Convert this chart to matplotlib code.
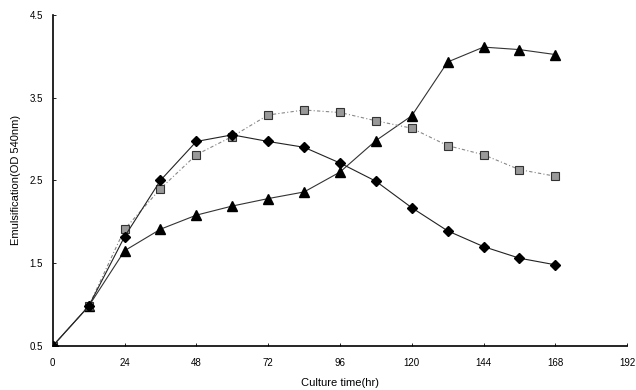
import matplotlib
matplotlib.use("Agg")
import matplotlib.pyplot as plt

plt.rcParams['font.family'] = ['Liberation Sans', 'DejaVu Sans']

# culture time (hr)
hours = [0, 12, 24, 36, 48, 60, 72, 84, 96, 108, 120, 132, 144, 156, 168]

# emulsification (OD 540nm)
diamond = [0.5, 0.98, 1.82, 2.50, 2.97, 3.05, 2.97, 2.90, 2.71, 2.49, 2.17, 1.89, 1.70, 1.56, 1.48]
square = [0.5, 0.98, 1.91, 2.40, 2.81, 3.03, 3.29, 3.35, 3.32, 3.22, 3.13, 2.92, 2.81, 2.63, 2.55]
triangle = [0.5, 0.98, 1.65, 1.91, 2.08, 2.19, 2.28, 2.36, 2.60, 2.98, 3.28, 3.93, 4.11, 4.08, 4.02]

x_ticks = [0, 24, 48, 72, 96, 120, 144, 168, 192]
y_ticks = [0.5, 1.5, 2.5, 3.5, 4.5]

fig = plt.figure(figsize=(6.36, 3.9), dpi=100)
ax = fig.add_axes([0.083, 0.113, 0.903, 0.849])

ax.plot(hours, triangle, color='#333333', lw=0.8, marker='^', ms=7,
        mfc='black', mec='black')
ax.plot(hours, square, color='#888888', lw=0.8, ls=(0, (3, 2, 1, 2)), marker='s', ms=6,
        mfc='#999999', mec='#333333', mew=0.8)
ax.plot(hours, diamond, color='#222222', lw=0.8, marker='D', ms=5.5,
        mfc='black', mec='black')

ax.set_xlim(0, 192)
ax.set_ylim(0.5, 4.5)
ax.set_xticks(x_ticks)
ax.set_yticks(y_ticks)
ax.set_yticklabels([str(v) for v in y_ticks])
ax.tick_params(labelsize=7, length=2, width=0.6, direction='in')
ax.tick_params(axis='x', pad=9)
ax.tick_params(axis='y', pad=7)

for side in ['top', 'right']:
    ax.spines[side].set_visible(False)
ax.spines['left'].set_linewidth(1.2)
ax.spines['bottom'].set_linewidth(1.2)

ax.set_xlabel('Culture time(hr)', fontsize=8, labelpad=7)
ax.set_ylabel('Emulsification(OD 540nm)', fontsize=8, labelpad=6)

fig.savefig('out.png', dpi=100)
